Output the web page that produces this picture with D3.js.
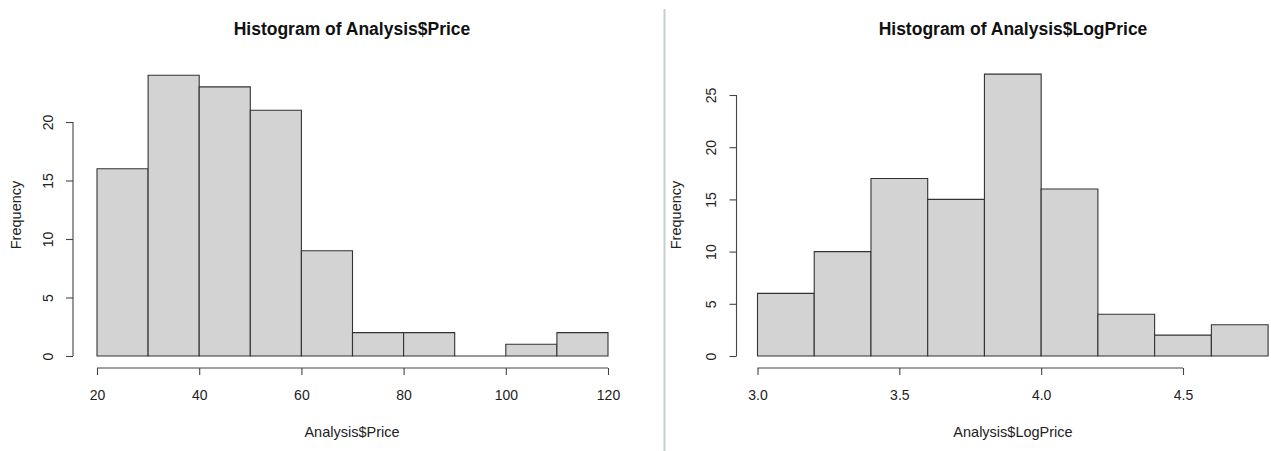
<!DOCTYPE html>
<html>
<head>
<meta charset="utf-8">
<script src="https://cdn.jsdelivr.net/npm/d3@7"></script>
<style>
  html, body { margin: 0; padding: 0; background: #fff; }
  svg { display: block; font-family: "Liberation Sans", Arial, sans-serif; }
</style>
</head>
<body>
<svg id="chart" width="1271" height="451"></svg>
<script>
// Histogram bins: price (width 10) and log price (width 0.2)
const priceBreaks = [20, 30, 40, 50, 60, 70, 80, 90, 100, 110, 120];
const priceCounts = [16, 24, 23, 21, 9, 2, 2, 0, 1, 2];
const priceXTicks = [20, 40, 60, 80, 100, 120];
const priceYTicks = [0, 5, 10, 15, 20];

const logBreaks = [3.0, 3.2, 3.4, 3.6, 3.8, 4.0, 4.2, 4.4, 4.6, 4.8];
const logCounts = [6, 10, 17, 15, 27, 16, 4, 2, 3];
const logXTicks = [3.0, 3.5, 4.0, 4.5];
const logYTicks = [0, 5, 10, 15, 20, 25];

const svg = d3.select("#chart");
const ink = "#222";
const font = "Liberation Sans, Arial, sans-serif";

function histogram(cfg) {
  const g = svg.append("g");
  const x = d3.scaleLinear().domain(cfg.xDomain).range(cfg.xRange);
  const y = d3.scaleLinear().domain(cfg.yDomain).range(cfg.yRange);

  // bars as closed paths so empty bins still show their outline on the baseline
  const bins = cfg.counts.map((c, i) => ({ x0: cfg.breaks[i], x1: cfg.breaks[i + 1], n: c }));
  g.selectAll("path.bar").data(bins).join("path")
    .attr("class", "bar")
    .attr("d", d => `M${x(d.x0)},${y(0)}V${y(d.n)}H${x(d.x1)}V${y(0)}Z`)
    .attr("fill", "#d3d3d3")
    .attr("stroke", "#333")
    .attr("stroke-width", 1.1);

  // x axis below the bars
  const xa = g.append("g")
    .attr("transform", `translate(0,${cfg.xAxisY})`)
    .call(d3.axisBottom(x).tickValues(cfg.xTicks).tickSize(7).tickSizeOuter(0)
      .tickFormat(cfg.xFormat));
  xa.select(".domain").attr("d", `M${x(cfg.xTicks[0])},0H${x(cfg.xTicks[cfg.xTicks.length - 1])}`);
  xa.selectAll("line, path").attr("stroke", "#444").attr("stroke-width", 1.1);
  xa.selectAll("text").attr("font-size", 14).attr("fill", ink).attr("dy", null).attr("y", 32)
    .attr("font-family", font);

  // y axis left of the bars, labels turned parallel to the axis
  const ya = g.append("g")
    .attr("transform", `translate(${cfg.yAxisX},0)`)
    .call(d3.axisLeft(y).tickValues(cfg.yTicks).tickSize(7).tickSizeOuter(0));
  ya.select(".domain").attr("d", `M0,${y(cfg.yTicks[0])}V${y(cfg.yTicks[cfg.yTicks.length - 1])}`);
  ya.selectAll("line, path").attr("stroke", "#444").attr("stroke-width", 1.1);
  ya.selectAll(".tick text")
    .attr("font-size", 14).attr("fill", ink)
    .attr("font-family", font)
    .attr("x", null)
    .attr("text-anchor", "middle")
    .attr("transform", "translate(-25,0) rotate(-90)")
    .attr("y", 0).attr("dy", "0.35em");

  g.append("text")
    .attr("x", cfg.titleX).attr("y", 35)
    .attr("text-anchor", "middle").attr("font-weight", "bold").attr("font-size", 17.5)
    .attr("fill", "#111").text(cfg.title);
  g.append("text")
    .attr("x", cfg.titleX).attr("y", 437)
    .attr("text-anchor", "middle").attr("font-size", 14.5)
    .attr("fill", ink).text(cfg.xLabel);
  g.append("text")
    .attr("transform", `translate(${cfg.yLabelX},215) rotate(-90)`)
    .attr("text-anchor", "middle").attr("font-size", 14.5)
    .attr("fill", ink).text("Frequency");
}

histogram({
  breaks: priceBreaks, counts: priceCounts,
  xDomain: [20, 120], xRange: [97, 608],
  yDomain: [0, 20], yRange: [356, 122],
  xTicks: priceXTicks, yTicks: priceYTicks,
  xFormat: d3.format("d"),
  xAxisY: 368, yAxisX: 73, yLabelX: 21, titleX: 352,
  title: "Histogram of Analysis$Price", xLabel: "Analysis$Price"
});

histogram({
  breaks: logBreaks, counts: logCounts,
  xDomain: [3.0, 4.5], xRange: [757.5, 1183],
  yDomain: [0, 25], yRange: [356, 95],
  xTicks: logXTicks, yTicks: logYTicks,
  xFormat: d3.format(".1f"),
  xAxisY: 368, yAxisX: 736.5, yLabelX: 681, titleX: 1013,
  title: "Histogram of Analysis$LogPrice", xLabel: "Analysis$LogPrice"
});

// divider between the two panels
svg.append("line")
  .attr("x1", 664.5).attr("x2", 664.5).attr("y1", 9).attr("y2", 451)
  .attr("stroke", "#c8cdd0").attr("stroke-width", 2);
</script>
</body>
</html>
